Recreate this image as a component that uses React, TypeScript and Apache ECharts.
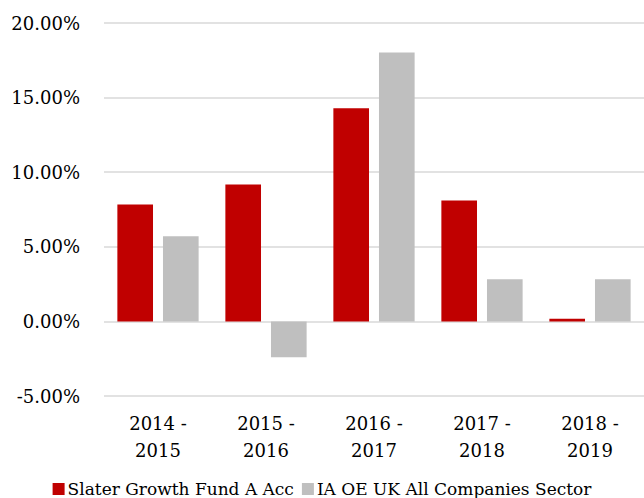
import React, { useEffect, useRef } from "react";
import * as echarts from "echarts";

const categories = ["2014 -\n2015", "2015 -\n2016", "2016 -\n2017", "2017 -\n2018", "2018 -\n2019"];
const slaterValues = [7.84, 9.18, 14.28, 8.11, 0.17];
const sectorValues = [5.7, -2.41, 18.03, 2.82, 2.82];
const seriesNames = ["Slater Growth Fund A Acc", "IA OE UK All Companies Sector"];

const FONT = "DejaVu Serif, serif";

export default function App() {
  const ref = useRef<HTMLDivElement>(null);
  useEffect(() => {
    if (!ref.current) return;
    const chart = echarts.init(ref.current, null, { renderer: "svg" });
    chart.setOption({
      animation: false,
      backgroundColor: "#ffffff",
      textStyle: { fontFamily: FONT },
      grid: { left: 104, right: 0, top: 23, bottom: 102, containLabel: false },
      legend: {
        top: 480,
        left: "center",
        width: 640,
        padding: 0,
        icon: "rect",
        itemWidth: 12,
        itemHeight: 12,
        itemGap: 8,
        textStyle: { fontFamily: FONT, fontSize: 17, lineHeight: 18, color: "#000", padding: [0, 0, 0, -2] },
        data: seriesNames,
      },
      xAxis: {
        type: "category",
        data: categories,
        axisLine: { show: false, onZero: false },
        axisTick: { show: false },
        axisLabel: {
          margin: 14,
          fontFamily: FONT,
          fontSize: 18,
          color: "#000",
          lineHeight: 27,
        },
      },
      yAxis: {
        type: "value",
        min: -5,
        max: 20,
        interval: 5,
        axisLine: { show: false },
        axisTick: { show: false },
        splitLine: { lineStyle: { color: "#D9D9D9", width: 1.5 } },
        axisLabel: {
          margin: 24,
          fontFamily: FONT,
          fontSize: 18,
          color: "#000",
          formatter: (v: number) => v.toFixed(2) + "%",
        },
      },
      series: [
        {
          name: seriesNames[0],
          type: "bar",
          data: slaterValues,
          barWidth: "33%",
          barGap: "28%",
          itemStyle: { color: "#C00000" },
        },
        {
          name: seriesNames[1],
          type: "bar",
          data: sectorValues,
          barWidth: "33%",
          itemStyle: { color: "#BFBFBF" },
        },
      ],
    });
    return () => chart.dispose();
  }, []);
  return (
    <div
      ref={ref}
      style={{ position: "fixed", left: 0, top: 0, width: 644, height: 498 }}
    />
  );
}
